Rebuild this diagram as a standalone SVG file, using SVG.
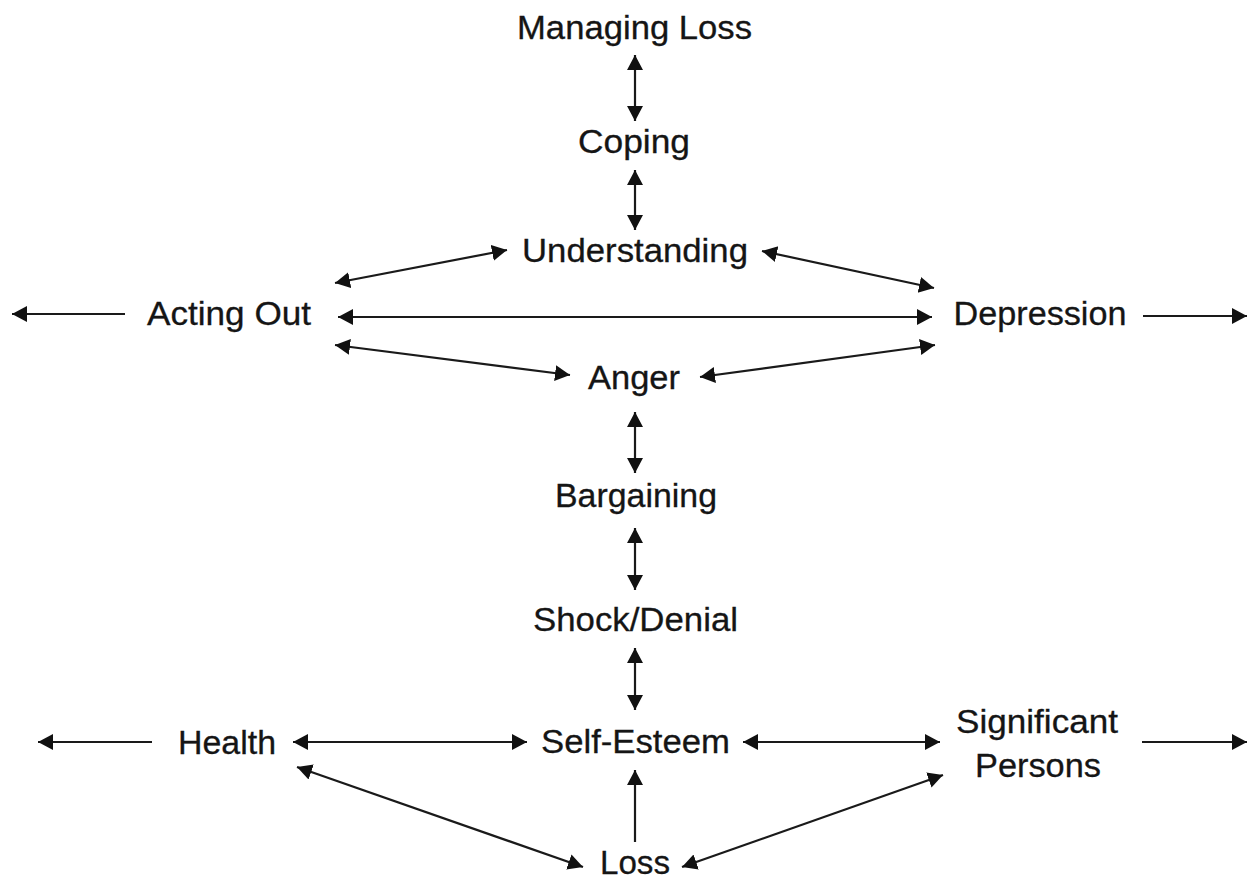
<svg xmlns="http://www.w3.org/2000/svg" width="1248" height="878" viewBox="0 0 1248 878">
<style>
text{font-family:"Liberation Sans",Arial,sans-serif;font-size:33px;fill:#151515;stroke:#151515;stroke-width:0.3;text-anchor:middle}
.c line{stroke:#1a1a1a;stroke-width:2.2;fill:none}
.d{marker-start:url(#ah);marker-end:url(#ah)}
.s{marker-end:url(#ah)}
</style>
<defs>
<marker id="ah" markerUnits="userSpaceOnUse" markerWidth="16" markerHeight="17" refX="15" refY="8" orient="auto-start-reverse">
<path d="M0,0 L15,8 L0,16 Z" fill="#111"/>
</marker>
</defs>
<rect width="1248" height="878" fill="#fff"/>
<g id="n-managing"><text x="634.5" y="39" textLength="235" lengthAdjust="spacingAndGlyphs">Managing Loss</text></g>
<g id="n-coping"><text x="634" y="153" textLength="112" lengthAdjust="spacingAndGlyphs">Coping</text></g>
<g id="n-understanding"><text x="635" y="262" textLength="226" lengthAdjust="spacingAndGlyphs">Understanding</text></g>
<g id="n-acting"><text x="229" y="325" textLength="164" lengthAdjust="spacingAndGlyphs">Acting Out</text></g>
<g id="n-depression"><text x="1040" y="325" textLength="173" lengthAdjust="spacingAndGlyphs">Depression</text></g>
<g id="n-anger"><text x="634" y="389" textLength="92" lengthAdjust="spacingAndGlyphs">Anger</text></g>
<g id="n-bargaining"><text x="636" y="507" textLength="162" lengthAdjust="spacingAndGlyphs">Bargaining</text></g>
<g id="n-shock"><text x="635.5" y="631" textLength="205" lengthAdjust="spacingAndGlyphs">Shock/Denial</text></g>
<g id="n-selfesteem"><text x="635.5" y="753" textLength="189" lengthAdjust="spacingAndGlyphs">Self-Esteem</text></g>
<g id="n-health"><text x="227" y="754" textLength="98" lengthAdjust="spacingAndGlyphs">Health</text></g>
<g id="n-significant"><text x="1037" y="733" textLength="162" lengthAdjust="spacingAndGlyphs">Significant</text><text x="1038" y="777" textLength="126" lengthAdjust="spacingAndGlyphs">Persons</text></g>
<g id="n-loss"><text x="635" y="874" textLength="70" lengthAdjust="spacingAndGlyphs">Loss</text></g>
<g id="connectors" class="c">
<line class="d" x1="635" y1="55" x2="635" y2="121"/>
<line class="d" x1="635" y1="170" x2="635" y2="230"/>
<line class="d" x1="335" y1="283" x2="507" y2="250"/>
<line class="d" x1="762" y1="251" x2="934" y2="288"/>
<line class="d" x1="338" y1="317" x2="932" y2="317"/>
<line class="s" x1="125" y1="314" x2="12" y2="314"/>
<line class="s" x1="1143" y1="316" x2="1247" y2="316"/>
<line class="d" x1="335" y1="345" x2="570" y2="375"/>
<line class="d" x1="700" y1="377" x2="935" y2="345"/>
<line class="d" x1="635" y1="412" x2="635" y2="473"/>
<line class="d" x1="635" y1="528" x2="635" y2="590"/>
<line class="d" x1="635" y1="648" x2="635" y2="710"/>
<line class="s" x1="152" y1="742" x2="38" y2="742"/>
<line class="d" x1="293" y1="742" x2="527" y2="742"/>
<line class="d" x1="743" y1="742" x2="940" y2="742"/>
<line class="s" x1="1142" y1="742" x2="1247" y2="742"/>
<line class="s" x1="635" y1="842" x2="635" y2="770"/>
<line class="d" x1="297" y1="767" x2="583" y2="867"/>
<line class="d" x1="682" y1="867" x2="943" y2="775"/>
</g>
</svg>
